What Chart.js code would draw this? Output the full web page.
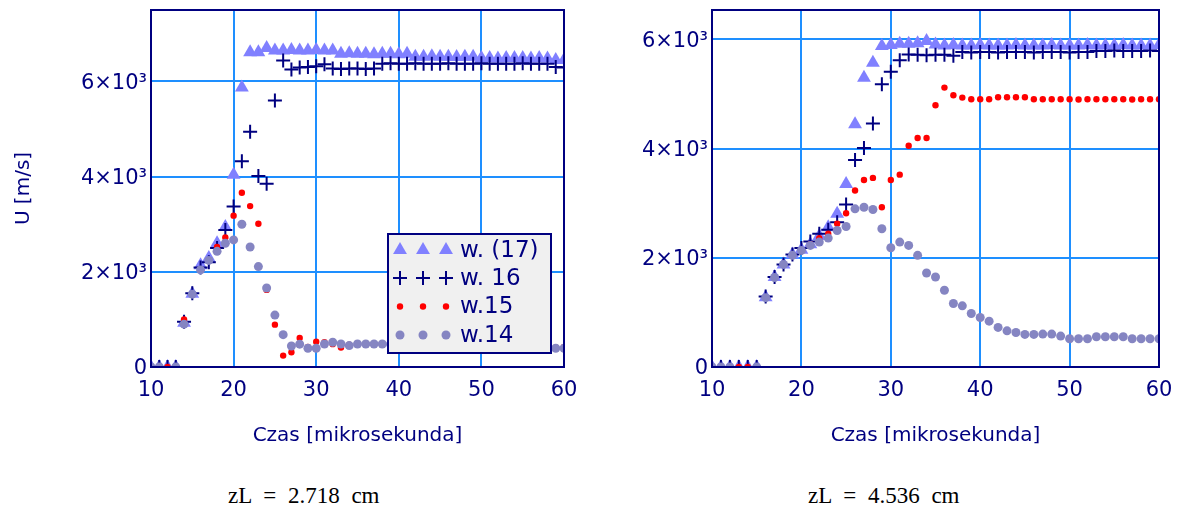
<!DOCTYPE html>
<html><head><meta charset="utf-8">
<script src="https://cdn.jsdelivr.net/npm/chart.js@4/dist/chart.umd.min.js"></script>
<style>
html,body{margin:0;padding:0;background:#fff;}
body{width:1185px;height:511px;position:relative;overflow:hidden;}
.wrap{position:absolute;top:0;}
.cap{position:absolute;top:484px;font-family:"Liberation Serif","Times New Roman",serif;font-size:23px;line-height:23px;color:#000;word-spacing:6px;white-space:nowrap;}
</style></head><body>
<div class="wrap" style="left:0;width:590px;height:460px"><canvas id="c1" width="590" height="460"></canvas></div>
<div class="wrap" style="left:590px;width:595px;height:460px"><canvas id="c2" width="595" height="460"></canvas></div>
<div class="cap" style="left:228px">zL = 2.718 cm</div>
<div class="cap" style="left:808px">zL = 4.536 cm</div>
<script>
const times = [10,11,12,13,14,15,16,17,18,19,20,21,22,23,24,25,26,27,28,29,30,31,32,33,34,35,36,37,38,39,40,41,42,43,44,45,46,47,48,49,50,51,52,53,54,55,56,57,58,59,60];
const xTicks = [10,20,30,40,50,60];
const yTicks = [0,2000,4000,6000];
const yTickLabels = ['0','2×10³','4×10³','6×10³'];
const seriesNames = ['w. (17)','w. 16','w.15','w.14'];
const xTitle = 'Czas [mikrosekunda]';
const yTitle = 'U [m/s]';

// left chart (zL = 2.718 cm)
const leftW17 = [0,0,0,0, 930,1540,2140,2290,2600,2940,4040,5870,
  6610,6610,6700,6650,6650,6660,6650,6650,6660,6650,6650,
  6580,6590,6580,6580,6570,6580,6580,6570,6580,
  6520,6520,6530,6520,6520,6510,6520,6520,
  6490,6490,6480,6490,6490,6490,6480,6490,6480,
  6450,6450];
const leftW16 = [0,0,0,0, 950,1550,2090,2200,2500,2880,3370,4320,4940,4010,3850,5600,
  6440,6250,6290,6300,6320,6360,
  6270,6260,6270,6270,6260,6270,
  6370,6380,6370,6370,6380,6370,6370,6370,6380,6370,6370,6370,6380,6370,6370,6370,6370,6380,6370,6370,6370,
  6300,6290];
const leftW15 = [0,0,0,0, 1000,1530,2040,2240,2520,2720,3180,3660,3380,3010,
  1620,890,240,310,610,420,530,520,
  480,410,470,480,480,490,480,470,480,470,470,460,470,460,460,450,460,450,440,450,440,430,440,430,420,430,420,410,420];
const leftW14 = [0,0,null,0, 900,1530,2040,2240,2430,2600,2670,3000,2520,2110,1660,1090,680,440,
  480,393,393,484,520,484,450,484,484,484,484,
  480,470,480,470,460,470,460,450,460,450,440,450,440,430,440,430,420,410,400,400,393,393];

// right chart (zL = 4.536 cm)
const rightW17 = [0,0,0,0,0,0, 1280,1650,1880,2060,2150,2250,2400,2560,2806,3354,
  4449,5300,5574,5879,5900,5920,5920,5930,5970,5910,
  5890,5900,5890,5890,5900,5890,5890,5890,5900,5890,5890,5890,5900,5890,5890,5890,5900,5890,5890,5890,5900,5890,5890,5890,5900];
const rightW16 = [0,0,0,0,0,0, 1290,1650,1880,2060,2180,2300,2441,2514,2653,2976,
  3792,4011,4460,5180,5410,5618,5727,
  5720,5710,5720,5720,5700,
  5770,5760,5770,5770,5760,5770,5770,5770,5760,5770,5770,5770,5760,5770,5770,
  5790,5790,5800,5790,5790,5790,5800,5790];
const rightW15 = [0,0,0,0,0,0, 1270,1640,1880,2045,2136,2250,2361,2441,2623,2817,
  3232,3427,3464,2927,3427,3524,4053,4194,4194,4796,
  5118,4979,4935,4905,4905,4905,4942,4942,4942,4942,
  4905,4905,4905,4905,4905,4900,4905,4905,4905,4905,4905,4900,4905,4905,4905];
const rightW14 = [0,0,0,null,null,0, 1270,1640,1880,2045,2136,2227,2288,2361,2500,2574,
  2897,2927,2885,2532,2185,2288,2227,2045,1722,1649,
  1406,1163,1120,980,907,840,725,663,633,597,
  597,603,603,566,517,517,517,554,554,554,554,517,517,517,517];

const NAVY = '#000080';
const GRID = '#1e8fff';
const C17 = '#8080ff', C15 = '#ff0000', C14 = '#8585c2';
const FONT = '"DejaVu Sans", Verdana, sans-serif';

function pts(vals){ return times.map((t,i)=>({x:t, y:vals[i]})); }

function makeDatasets(v17,v16,v15,v14){
  return [
    {label:seriesNames[0], data:pts(v17), pointStyle:'triangle', pointRadius:8, pointHoverRadius:8,
     pointBackgroundColor:C17, pointBorderColor:C17, pointBorderWidth:0, showLine:false, order:3},
    {label:seriesNames[1], data:pts(v16), pointStyle:'cross', pointRadius:7, pointHoverRadius:7,
     pointBackgroundColor:NAVY, pointBorderColor:NAVY, pointBorderWidth:2, showLine:false, order:2},
    {label:seriesNames[2], data:pts(v15), pointStyle:'circle', pointRadius:3.2, pointHoverRadius:3.2,
     pointBackgroundColor:C15, pointBorderColor:C15, pointBorderWidth:0, showLine:false, order:1},
    {label:seriesNames[3], data:pts(v14), pointStyle:'circle', pointRadius:4.5, pointHoverRadius:4.5,
     pointBackgroundColor:C14, pointBorderColor:C14, pointBorderWidth:0, showLine:false, order:0}
  ];
}

const framePlugin = {id:'frame', afterDatasetsDraw(chart){
  const {ctx, chartArea:a} = chart;
  ctx.save(); ctx.strokeStyle = NAVY; ctx.lineWidth = 2;
  ctx.strokeRect(a.left, a.top, a.right-a.left, a.bottom-a.top);
  ctx.restore();
}};

function drawMarker(ctx, kind, x, y){
  ctx.beginPath();
  if (kind === 0){
    ctx.fillStyle = C17;
    ctx.moveTo(x, y-8); ctx.lineTo(x+6.93, y+4); ctx.lineTo(x-6.93, y+4); ctx.closePath(); ctx.fill();
  } else if (kind === 1){
    ctx.strokeStyle = NAVY; ctx.lineWidth = 2;
    ctx.moveTo(x-7, y); ctx.lineTo(x+7, y); ctx.moveTo(x, y-7); ctx.lineTo(x, y+7); ctx.stroke();
  } else if (kind === 2){
    ctx.fillStyle = C15; ctx.arc(x, y, 3.2, 0, Math.PI*2); ctx.fill();
  } else {
    ctx.fillStyle = C14; ctx.arc(x, y, 4.5, 0, Math.PI*2); ctx.fill();
  }
}

const legendPlugin = {id:'boxLegend', afterDraw(chart){
  const {ctx, chartArea:a} = chart;
  const bx = a.right-176, by = a.bottom-133, bw = 163, bh = 119;
  ctx.save();
  ctx.fillStyle = '#f0f0f0'; ctx.fillRect(bx, by, bw, bh);
  ctx.strokeStyle = NAVY; ctx.lineWidth = 2; ctx.strokeRect(bx, by, bw, bh);
  const rows = [by+16, by+44, by+72.5, by+101];
  const mx = [bx+12, bx+35, bx+58];
  ctx.font = '23px ' + FONT; ctx.textBaseline = 'middle'; ctx.textAlign = 'left';
  seriesNames.forEach((n,i)=>{
    mx.forEach(x=>drawMarker(ctx, i, x, rows[i]));
    ctx.fillStyle = NAVY; ctx.fillText(n, bx+72, rows[i]+1);
  });
  ctx.restore();
}};

function makeChart(id, v17,v16,v15,v14, yMax, yWidth, padRight, showYTitle, withLegend){
  const plugins = [framePlugin];
  if (withLegend) plugins.push(legendPlugin);
  return new Chart(document.getElementById(id), {
    type:'scatter',
    data:{datasets:makeDatasets(v17,v16,v15,v14)},
    plugins: plugins,
    options:{
      responsive:false, animation:false, devicePixelRatio:1, events:[],
      layout:{padding:{left:0, right:padRight, top:10, bottom:12}},
      plugins:{legend:{display:false}, tooltip:{enabled:false}},
      scales:{
        x:{type:'linear', min:10, max:60,
          afterBuildTicks:s=>{ s.ticks = xTicks.map(v=>({value:v})); },
          afterFit:s=>{ s.height = 81; s.paddingLeft = 0; s.paddingRight = 0; },
          ticks:{color:NAVY, font:{family:FONT, size:21}, padding:11, maxRotation:0, autoSkip:false,
                 callback:v=>String(v)},
          grid:{color:GRID, lineWidth:2, drawTicks:false},
          border:{display:false},
          title:{display:true, text:xTitle, color:NAVY, font:{family:FONT, size:20}, padding:0}
        },
        y:{type:'linear', min:0, max:yMax,
          afterBuildTicks:s=>{ s.ticks = yTicks.map(v=>({value:v})); },
          afterFit:s=>{ s.width = yWidth; s.paddingTop = 0; s.paddingBottom = 0; },
          ticks:{color:NAVY, font:{family:FONT, size:21}, padding:4, labelOffset:2,
                 callback:v=>yTickLabels[yTicks.indexOf(v)]},
          grid:{color:GRID, lineWidth:2, drawTicks:false},
          border:{display:false},
          title:{display:showYTitle, text:yTitle, color:NAVY, font:{family:FONT, size:20}, padding:{top:12, bottom:0}}
        }
      }
    }
  });
}

makeChart('c1', leftW17, leftW16, leftW15, leftW14, 7500, 151, 26, true, true);
makeChart('c2', rightW17, rightW16, rightW15, rightW14, 6540, 122, 26, false, false);
</script>
</body></html>
